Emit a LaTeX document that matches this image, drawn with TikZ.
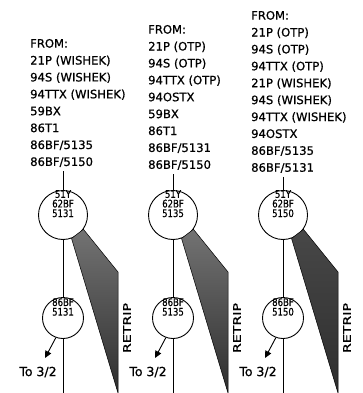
\documentclass[tikz,border=0pt]{standalone}
\usepackage{fontspec}
\setmainfont{DejaVu Sans}[FakeBold=0.8]
\usetikzlibrary{arrows.meta,positioning}
\tikzset{
  lst/.style={align=left,anchor=north west,inner sep=0pt,font=\fontsize{11.6}{16.9}\selectfont},
  relay/.style={draw,circle,line width=0.9pt,inner sep=0pt},
  tag/.style={align=center,inner sep=0pt,font=\fontsize{10.4}{9.6}\selectfont},
  tolbl/.style={inner sep=0pt,font=\fontsize{12.5}{12.5}\selectfont},
  retrip/.style={rotate=90,inner sep=0pt,font=\fontsize{10.5}{10.5}\selectfont},
  ar/.style={-{Triangle[length=7pt,width=6.5pt]},line width=0.9pt},
  wire/.style={line width=0.9pt}
}
\begin{document}
\begin{tikzpicture}[x=1pt,y=-1pt]
\useasboundingbox (0,0) rectangle (362,393);
% source lists
\node[lst] (lst1) at (30,38.8) {FROM:\\21P (WISHEK)\\94S (WISHEK)\\94TTX (WISHEK)\\59BX\\86T1\\86BF/5135\\86BF/5150};
\node[lst] (lst2) at (148,24.8) {FROM:\\21P (OTP)\\94S (OTP)\\94TTX (OTP)\\94OSTX\\59BX\\86T1\\86BF/5131\\86BF/5150};
\node[lst] (lst3) at (251,10.8) {FROM:\\21P (OTP)\\94S (OTP)\\94TTX (OTP)\\21P (WISHEK)\\94S (WISHEK)\\94TTX (WISHEK)\\94OSTX\\86BF/5135\\86BF/5131};
% breaker columns
\foreach \i/\x/\n/\d in {1/63/5131/55,2/173/5135/55,3/283/5150/72}{
  \node[relay,minimum size=49pt] (ta\i) at (\x,215) {};
  \node[relay,minimum size=41pt] (tb\i) at (\x,318) {};
  \coordinate (bot\i) at (\x,393);
  \coordinate (wc\i) at (\x+55,272);
  \coordinate (wd\i) at (\x+55,393);
  \coordinate (tip\i) at (\x-18,358);
  \shade[top color=black!\d,bottom color=black!82,draw=black,line width=0.5pt]
    (ta\i.290) -- (ta\i.325) -- (wc\i) -- (wd\i) -- cycle;
  \node[tag,below=0pt of ta\i.north] (tga\i) {\scalebox{0.82}[1]{51Y}\\\scalebox{0.82}[1]{62BF}\\\scalebox{0.82}[1]{\n}};
  \node[tag,below=1pt of tb\i.north] (tgb\i) {\scalebox{0.82}[1]{86BF}\\\scalebox{0.82}[1]{\n}};
  \draw[wire,shorten <=4pt] (ta\i |- lst\i.south) -- (ta\i);
  \draw[wire] (ta\i) -- (tb\i);
  \draw[wire] (tb\i) -- (bot\i);
  \draw[ar] (tb\i.250) -- (tip\i);
  \node[tolbl] (to\i) at (\x-25,372) {To 3/2};
  \node[retrip] (rt\i) at (\x+64,328) {\scalebox{1.35}[1]{RETRIP}};
}
\end{tikzpicture}
\end{document}
